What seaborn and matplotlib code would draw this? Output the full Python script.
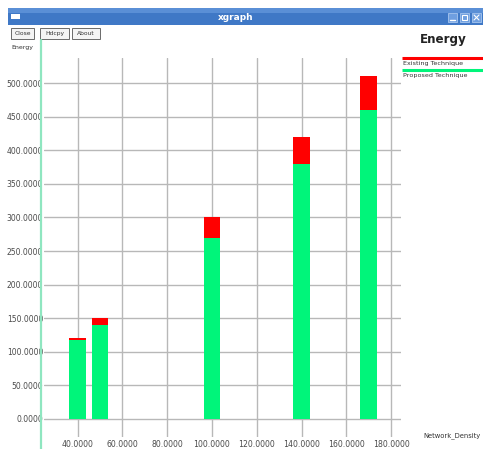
import matplotlib
matplotlib.use("Agg")
import matplotlib.pyplot as plt
from matplotlib.patches import Rectangle
import seaborn as sns
import numpy as np

# ---- data ----
density = [40, 50, 100, 140, 170]
existing = [120, 150, 300, 420, 510]
proposed = [117, 140, 270, 380, 460]
xticks = [40, 60, 80, 100, 120, 140, 160, 180]
yticks = [0, 50, 100, 150, 200, 250, 300, 350, 400, 450, 500]
series_names = ["Existing Technique", "Proposed Technique"]
series_colors = ["#ff0000", "#00f57a"]

sns.set_style("white")
plt.rcParams['font.family'] = ['DejaVu Sans']

W, H = 483, 449
fig = plt.figure(figsize=(W / 100, H / 100), dpi=100)
fig.patch.set_facecolor("white")

# main plot axes (pixel rectangle: x 44..401, y 58..437)
L, R, T, B = 44, 401, 58, 437
ax = fig.add_axes([L / W, (H - B) / H, (R - L) / W, (B - T) / H])
ax.set_facecolor("white")

sns.barplot(x=density, y=existing, native_scale=True, color=series_colors[0],
            width=0.75, saturation=1, errorbar=None, linewidth=0,
            edgecolor="none", ax=ax, zorder=3)
sns.barplot(x=density, y=proposed, native_scale=True, color=series_colors[1],
            width=0.75, saturation=1, errorbar=None, linewidth=0,
            edgecolor="none", ax=ax, zorder=4)

# pixel mapping: x=40 -> 77.5px, 2.24 px/unit ; y=0 -> 419px, 0.672 px/unit
x0 = 40 + (L - 77.5) / 2.24
x1 = 40 + (R - 77.5) / 2.24
y0 = -(B - 419) / 0.672
y1 = (419 - T) / 0.672
ax.set_xlim(x0, x1)
ax.set_ylim(y0, y1)
ax.set_xticks(xticks)
ax.set_yticks(yticks)
ax.set_xticklabels([f"{v:.4f}" for v in xticks])
ax.set_yticklabels([f"{v:.4f}" for v in yticks])
ax.tick_params(axis="both", length=0, labelcolor="#4a4a4a")
ax.tick_params(axis="y", pad=0.5, labelsize=5.5)
ax.tick_params(axis="x", pad=2.2, labelsize=5.6)
ax.grid(True, color="#b8b8b8", linewidth=1.0)
ax.set_axisbelow(True)
for s in ax.spines.values():
    s.set_visible(False)
ax.set_xlabel("")
ax.set_ylabel("")

# overlay in pixel coordinates for window decorations / labels / legend
ov = fig.add_axes([0, 0, 1, 1], zorder=5)
ov.set_xlim(0, W)
ov.set_ylim(H, 0)
ov.axis("off")
ov.patch.set_alpha(0)

# title bar
ov.add_patch(Rectangle((8, 8), W - 8, 17, facecolor="#3f78c6", edgecolor="none"))
ov.add_patch(Rectangle((8, 8), W - 8, 5, facecolor="#5a8fd6", edgecolor="none"))
ov.add_patch(Rectangle((11, 14), 9, 5, facecolor="white", edgecolor="none"))
ov.text(236, 17, "xgraph", color="white", fontsize=6.5, fontweight="bold",
        ha="center", va="center")
for bx in (448, 460, 472):
    ov.add_patch(Rectangle((bx, 13), 9, 9, facecolor="#6f9fe0", edgecolor="#a8c6ee", lw=0.6))
ov.plot([450, 455], [20, 20], color="white", lw=1)
ov.add_patch(Rectangle((462, 15), 5, 5, facecolor="none", edgecolor="white", lw=0.8))
ov.plot([474, 479], [15, 20], color="white", lw=0.8)
ov.plot([474, 479], [20, 15], color="white", lw=0.8)

# buttons
for (bx0, bx1, lab) in [(11, 34, "Close"), (40, 69, "Hdcpy"), (72, 100, "About")]:
    ov.add_patch(Rectangle((bx0, 28), bx1 - bx0, 11, facecolor="#f4f4f4",
                           edgecolor="#6a6a6a", lw=0.7))
    ov.text((bx0 + bx1) / 2, 33.8, lab, fontsize=4.3, color="#333333",
            ha="center", va="center")

# green vertical line
ov.plot([40.5, 40.5], [40, H], color="#8fe6c0", lw=1.6, zorder=6)

# labels
ov.text(11, 47, "Energy", fontsize=4.5, color="#333333", ha="left", va="center")
ov.text(443.5, 40, "Energy", fontsize=8.6, fontweight="bold", color="#222222",
        ha="center", va="center")
ov.text(423, 436, "Network_Density", fontsize=4.9, color="#333333",
        ha="left", va="center")

# legend
ov.plot([402, W], [58, 58], color=series_colors[0], lw=2.2, solid_capstyle="butt")
ov.text(403, 63.5, series_names[0], fontsize=4.6, color="#333333", ha="left", va="center")
ov.plot([402, W], [70, 70], color=series_colors[1], lw=2.2, solid_capstyle="butt")
ov.text(403, 75.5, series_names[1], fontsize=4.6, color="#333333", ha="left", va="center")

fig.savefig("out.png", dpi=100)
